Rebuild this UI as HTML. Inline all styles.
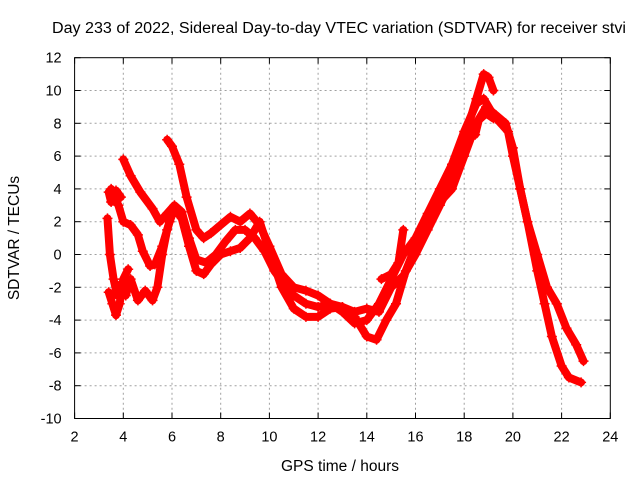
<!DOCTYPE html>
<html><head><meta charset="utf-8"><style>
body{margin:0;background:#fff}
svg text{font-family:"Liberation Sans",sans-serif;fill:#000}
</style></head><body>
<svg id="chart" width="640" height="480" xmlns="http://www.w3.org/2000/svg">
<rect width="640" height="480" fill="#fff"/>
<text x="339" y="33" font-size="15.5" text-anchor="middle" textLength="574" lengthAdjust="spacingAndGlyphs">Day 233 of 2022, Sidereal Day-to-day VTEC variation (SDTVAR) for receiver stvi</text>
<text x="340" y="471" font-size="15.5" text-anchor="middle">GPS time / hours</text>
<text x="19" y="238" font-size="15.5" text-anchor="middle" transform="rotate(-90 19 238)">SDTVAR / TECUs</text>
<g id="grid"></g><g id="series"></g><g id="axes"></g>
</svg>
<script>
const xTicks=[2,4,6,8,10,12,14,16,18,20,22,24];
const yTicks=[12,10,8,6,4,2,0,-2,-4,-6,-8,-10];
const traceA=[[5.8,7],[6.0,6.6],[6.3,5.5],[6.6,3.5],[7.0,1.5],[7.3,1.0],[7.6,1.3],[8.0,1.8],[8.4,2.3],[8.8,2.0],[9.2,2.5],[9.6,1.8],[10,0.5],[10.5,-1.2],[11,-2.0],[11.5,-2.2],[12,-2.5],[12.5,-3],[13,-3.2],[13.5,-3.5],[14,-3.3],[14.5,-3.5],[15,-2],[15.5,-1.3],[16,0],[16.5,1.5],[17,3],[17.5,4.5],[18,7],[18.5,9.5],[18.8,11],[19.0,10.8],[19.2,10.0]];
const traceB=[[4.0,5.8],[4.3,4.8],[4.7,3.8],[5.2,2.8],[5.5,2.0],[5.8,2.5],[6.1,3.0],[6.4,2.6],[6.7,1.0],[7.0,-0.3],[7.4,-0.5],[7.8,0],[8.2,0.8],[8.6,1.5],[9.0,1.5],[9.4,1.0],[9.8,0.2],[10.2,-1.0],[10.6,-1.8],[11,-2.5],[11.5,-3.0],[12,-3.2],[12.5,-3.0],[13,-3.5],[13.5,-4.2],[14,-4.0],[14.5,-3.0],[15,-1.5],[15.5,0],[16,1.0],[16.5,2.5],[17,4],[17.5,5.5],[18,7.5],[18.5,9.2],[18.8,9.5],[19.2,8.5],[19.5,8.0],[19.8,7.5],[20,6],[20.3,4],[20.6,2],[21,-1],[21.3,-3],[21.6,-5],[22,-6.8],[22.3,-7.5],[22.8,-7.8]];
const traceC=[[3.5,4.0],[3.6,3.5],[3.8,3.0],[4.0,2.0],[4.3,1.8],[4.6,1.2],[4.8,0.2],[5.1,-0.7],[5.3,-0.6],[5.6,0.5],[5.9,2.0],[6.1,2.8],[6.4,2.2],[6.7,0.5],[7.0,-1.0],[7.3,-1.2],[7.6,-0.6],[8.0,0],[8.4,0.2],[8.8,0.4],[9.2,1.0],[9.6,2.0],[10,0.2],[10.5,-2.0],[11,-3.3],[11.5,-3.8],[12,-3.8],[12.5,-3.3],[13,-3.2],[13.5,-3.8],[14,-5.0],[14.4,-5.2],[14.8,-4.0],[15.2,-3.0],[15.6,-1.0],[16,0.5],[16.5,2.0],[17,3.2],[17.5,4.0],[18,6],[18.5,8],[18.9,9.0],[19.3,8.5],[19.7,8.0],[20,6.5],[20.3,4.0],[20.6,2.0],[21,0],[21.4,-2.0],[21.8,-3.0],[22.2,-4.5],[22.6,-5.5],[22.9,-6.5]];
const traceD=[[3.35,2.2],[3.45,0],[3.6,-1.5],[3.75,-2.5],[3.9,-1.8],[4.1,-2.5],[4.3,-1.5],[4.6,-2.8],[4.9,-2.2],[5.2,-2.8],[5.4,-2.0],[5.6,0],[5.8,1.5],[6.0,2.5],[6.2,2.8]];
const traceE=[[3.4,-2.3],[3.55,-3.0],[3.7,-3.7],[3.85,-3.0],[4.0,-1.5],[4.2,-0.9]];
const traceF=[[3.4,3.8],[3.5,3.2],[3.7,3.9],[3.9,3.5]];
const traceG=[[14.6,-1.5],[15.0,-1.2],[15.3,-0.5],[15.5,1.5]];
const traceH=[[18.45,7.3],[18.6,8.2],[18.9,8.6],[19.2,8.3]];
const traces=[traceA,traceB,traceC,traceD,traceE,traceF,traceG,traceH];
const NS='http://www.w3.org/2000/svg';
const X0=74.6,XS=24.35,Y0=57.7,YS=16.4,L=74.6,R=610.3,T=57.7,B=418.5;
const xs=v=>X0+(v-2)*XS, ys=v=>Y0+(12-v)*YS;
function mk(t,a){const e=document.createElementNS(NS,t);for(const k in a)e.setAttribute(k,a[k]);return e;}
const grid=document.getElementById('grid'),ser=document.getElementById('series'),ax=document.getElementById('axes');
xTicks.forEach(v=>{const x=xs(v);
 if(v>2&&v<24){const g=mk('line',{x1:x,x2:x,y1:T,y2:B,stroke:'#a0a0a0','stroke-dasharray':'2,3'});
 
 grid.appendChild(g);}
 const t=mk('text',{x:x,y:B+23,'font-size':14.5,'text-anchor':'middle'});t.textContent=v;
 
 ax.appendChild(t);
 ax.appendChild(mk('line',{x1:x,x2:x,y1:B,y2:B-6,stroke:'#000'}));ax.appendChild(mk('line',{x1:x,x2:x,y1:T,y2:T+6,stroke:'#000'}));});
yTicks.forEach(v=>{const y=ys(v);
 if(v<12&&v>-10){const g=mk('line',{x1:L,x2:R,y1:y,y2:y,stroke:'#a0a0a0','stroke-dasharray':'2,3'});
 
 grid.appendChild(g);}
 const t=mk('text',{x:L-13,y:y+5,'font-size':14.5,'text-anchor':'end'});t.textContent=v;
 
 ax.appendChild(t);
 ax.appendChild(mk('line',{x1:L,x2:L+6,y1:y,y2:y,stroke:'#000'}));ax.appendChild(mk('line',{x1:R,x2:R-6,y1:y,y2:y,stroke:'#000'}));});
const frame=mk('rect',{x:L,y:T,width:R-L,height:B-T,fill:'none',stroke:'#000'});

ax.appendChild(frame);
traces.forEach((tr,i)=>{const pts=tr.map(p=>xs(p[0])+','+ys(p[1])).join(' ');
 const pl=mk('polyline',{points:pts,fill:'none',stroke:'#ff0000','stroke-width':8,'stroke-linejoin':'round','stroke-linecap':'round'});
 
 ser.appendChild(pl);
 tr.forEach(p=>{const x=xs(p[0]),y=ys(p[1]);
  const m=mk('path',{d:`M${x-5},${y}H${x+5}M${x},${y-5}V${y+5}`,stroke:'#ff0000','stroke-width':1.5});
  
  ser.appendChild(m);});});
</script>
</body></html>
